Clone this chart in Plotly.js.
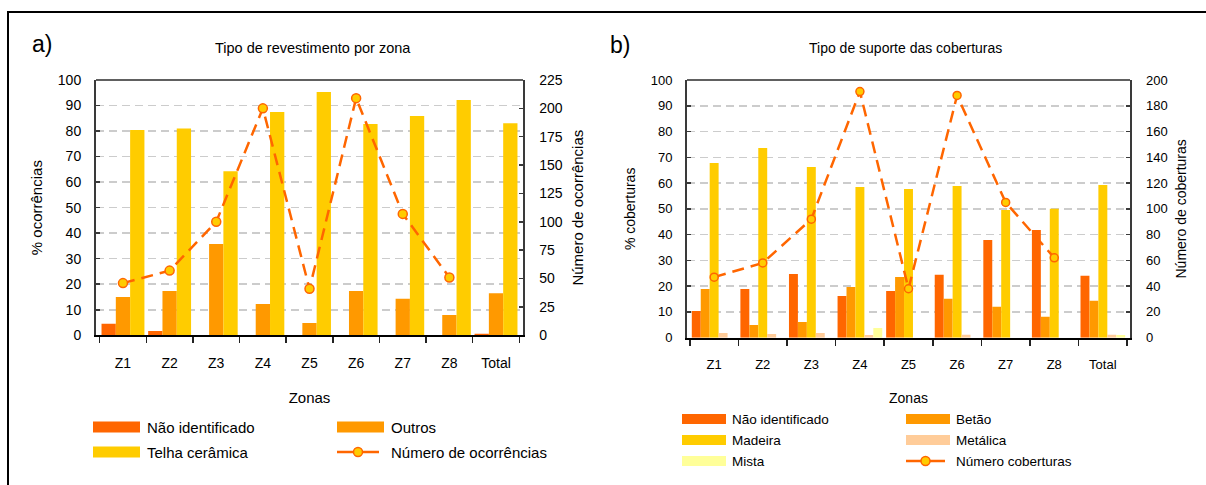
<!DOCTYPE html>
<html><head><meta charset="utf-8">
<script src="https://cdn.plot.ly/plotly-3.0.1.min.js"></script>
<style>
html,body{margin:0;padding:0;background:#fff;overflow:hidden;width:1206px;height:485px;}
#chart{position:absolute;left:0;top:0;width:1206px;height:485px;}
#frame{position:absolute;left:7px;top:11px;width:1400px;height:700px;border:2px solid #000;box-sizing:border-box;pointer-events:none;}
</style></head><body>
<div id="chart"></div><div id="frame"></div>
<script>
// ---- data ----
const zones = ['Z1','Z2','Z3','Z4','Z5','Z6','Z7','Z8','Total'];

// a) Tipo de revestimento por zona (%)
const naoIdentA = [4.5, 1.7, 0, 0, 0, 0, 0, 0, 0.6];
const outrosA   = [15.0, 17.4, 35.8, 12.3, 4.8, 17.4, 14.3, 8.0, 16.5];
const telhaA    = [80.4, 81.0, 64.3, 87.5, 95.3, 82.8, 85.9, 92.2, 83.1];
const ocorrencias = [46, 57, 100, 200, 41, 209, 107, 51, null];

// b) Tipo de suporte das coberturas (%)
const naoIdentB = [10.4, 18.9, 24.7, 16.2, 18.1, 24.4, 37.9, 41.8, 24.0];
const betaoB    = [18.9, 4.9, 6.1, 19.7, 23.6, 15.1, 12.0, 8.1, 14.3];
const madeiraB  = [67.8, 73.6, 66.2, 58.5, 57.7, 58.9, 49.6, 50.0, 59.3];
const metalicaB = [1.8, 1.4, 1.8, 1.0, 0, 1.1, 0, 0, 1.1];
const mistaB    = [0, 0, 0, 3.8, 0, 0, 0, 0, 1.0];
const coberturas = [47, 58, 92, 191, 38, 188, 105, 62, null];

// ---- style ----
const W = 1206, H = 485;
const px = x => x / W, py = y => 1 - y / H;
const FONT = '"Liberation Sans", Arial, sans-serif';
const COL = {ni:'#FF6600', outros:'#FF9900', telha:'#FFCC00', metal:'#FFCC99', mista:'#FFFF99', line:'#FF6600', mk:'#FFCC00'};
const LINE_DASH = '12px,7px';

function bar(name, x, y, color, xa, ya){
  return {type:'bar', name, x, y, xaxis:xa, yaxis:ya, marker:{color, line:{width:0}}, showlegend:false, hoverinfo:'skip'};
}
function line(name, x, y, xa, ya, msize){
  return {type:'scatter', mode:'lines+markers', name, x, y, xaxis:xa, yaxis:ya, showlegend:false,
    line:{color:COL.line, width:2.5, dash:LINE_DASH},
    marker:{size:msize, color:COL.mk, line:{color:COL.line, width:1.5}}, hoverinfo:'skip'};
}

const traces = [
  bar('Não identificado', zones, naoIdentA, COL.ni, 'x', 'y'),
  bar('Outros', zones, outrosA, COL.outros, 'x', 'y'),
  bar('Telha cerâmica', zones, telhaA, COL.telha, 'x', 'y'),
  line('Número de ocorrências', zones, ocorrencias, 'x', 'y2', 9),
  bar('Não identificado', zones, naoIdentB, COL.ni, 'x2', 'y3'),
  bar('Betão', zones, betaoB, COL.outros, 'x2', 'y3'),
  bar('Madeira', zones, madeiraB, COL.telha, 'x2', 'y3'),
  bar('Metálica', zones, metalicaB, COL.metal, 'x2', 'y3'),
  bar('Mista', zones, mistaB, COL.mista, 'x2', 'y3'),
  line('Número coberturas', zones, coberturas, 'x2', 'y4', 8)
];

function xAxis(dom, anchor, fs){
  return {domain:dom, anchor, type:'category', showline:true, linecolor:'#000', linewidth:2,
    ticks:'outside', tickson:'boundaries', ticklen:6, tickwidth:1.5, tickcolor:'#222',
    tickfont:{size:fs, family:FONT, color:'#000'}, ticklabelstandoff:14,
    showgrid:false, zeroline:false, fixedrange:true,
    title:{text:'Zonas', font:{size:fs+1, family:FONT, color:'#000'}, standoff:22}};
}
function yLeft(dom, anchor, dtick, fs, title, so){
  return {domain:dom, anchor, range:[0,100], dtick, tick0:0, showline:true, linecolor:'#3a3a3a', linewidth:2,
    ticks:'inside', ticklen:4, tickcolor:'#3a3a3a', tickwidth:1.5,
    tickfont:{size:fs, family:FONT, color:'#000'}, ticklabelstandoff:10,
    showgrid:true, gridcolor:'#cccccc', gridwidth:1.5, griddash:'8px,5px', zeroline:false, fixedrange:true,
    title:{text:title, font:{size:fs+1, family:FONT, color:'#000'}, standoff:so}};
}
function yRight(over, anchor, range, dtick, fs, title, so){
  return {overlaying:over, anchor, side:'right', range, dtick, tick0:0, showline:true, linecolor:'#3a3a3a', linewidth:1.5,
    ticks:'inside', ticklen:4, tickcolor:'#3a3a3a', tickwidth:1.5,
    tickfont:{size:fs, family:FONT, color:'#000'}, ticklabelstandoff:12,
    showgrid:false, zeroline:false, fixedrange:true,
    title:{text:title, font:{size:fs+1, family:FONT, color:'#000'}, standoff:so}};
}

const shapes = [
  {type:'line', xref:'x domain', yref:'y domain', x0:0, x1:1, y0:1, y1:1, line:{color:'#606060', width:2}},
  {type:'line', xref:'x2 domain', yref:'y3 domain', x0:0, x1:1, y0:1, y1:1, line:{color:'#606060', width:2}}
];
const annotations = [
  {text:'a)', x:px(42), y:py(44), xref:'paper', yref:'paper', xanchor:'center', yanchor:'middle', showarrow:false, font:{size:23, family:FONT, color:'#000'}},
  {text:'b)', x:px(620), y:py(45), xref:'paper', yref:'paper', xanchor:'center', yanchor:'middle', showarrow:false, font:{size:23, family:FONT, color:'#000'}},
  {text:'Tipo de revestimento por zona', x:px(313), y:py(48), xref:'paper', yref:'paper', xanchor:'center', yanchor:'middle', showarrow:false, font:{size:14.5, family:FONT, color:'#000'}},
  {text:'Tipo de suporte das coberturas', x:px(905), y:py(48), xref:'paper', yref:'paper', xanchor:'center', yanchor:'middle', showarrow:false, font:{size:14, family:FONT, color:'#000'}}
];

// custom legends built from the traces
function legend(list, colX, rowY, sw, sh, textOff, lineLen, mkR, fs){
  list.forEach((t, i) => {
    const cx = colX[i % 2], cy = rowY[Math.floor(i / 2)];
    if (t.type === 'bar') {
      shapes.push({type:'rect', xref:'paper', yref:'paper', x0:px(cx), x1:px(cx+sw), y0:py(cy+sh/2), y1:py(cy-sh/2),
        fillcolor:t.marker.color, line:{width:0}});
    } else {
      shapes.push({type:'line', xref:'paper', yref:'paper', x0:px(cx), x1:px(cx+lineLen), y0:py(cy), y1:py(cy),
        line:{color:COL.line, width:2.5}});
      const mx = cx + lineLen/2;
      shapes.push({type:'circle', xref:'paper', yref:'paper', x0:px(mx-mkR), x1:px(mx+mkR), y0:py(cy+mkR), y1:py(cy-mkR),
        fillcolor:COL.mk, line:{color:COL.line, width:1.5}});
    }
    annotations.push({text:t.name, xref:'paper', yref:'paper', x:px(cx+textOff), y:py(cy), xanchor:'left', yanchor:'middle',
      showarrow:false, font:{size:fs, family:FONT, color:'#000'}});
  });
}
legend(traces.slice(0,4), [93, 337], [427, 452], 47, 11, 52, 42, 4.5, 15);
legend(traces.slice(4), [682, 906], [419, 440, 461], 44, 10, 48, 39, 4.5, 13.5);

const layout = {
  width:W, height:H, margin:{l:0, r:0, t:0, b:0}, paper_bgcolor:'#fff', plot_bgcolor:'#fff',
  font:{family:FONT, color:'#000'},
  barmode:'group', bargap:0.08, bargroupgap:0,
  showlegend:false,
  xaxis: xAxis([px(96), px(523)], 'y', 14),
  yaxis: yLeft([py(335.3), py(80)], 'x', 10, 14, '% ocorrências', 12),
  yaxis2: yRight('y', 'x', [0,225], 25, 14, 'Número de ocorrências', 10),
  xaxis2: xAxis([px(687), px(1130)], 'y3', 13),
  yaxis3: yLeft([py(337.7), py(80)], 'x2', 10, 13, '% coberturas', 12),
  yaxis4: yRight('y3', 'x2', [0,200], 20, 13, 'Número de coberturas', 9),
  shapes, annotations
};

Plotly.newPlot('chart', traces, layout, {staticPlot:true, displayModeBar:false});
</script>
</body></html>
